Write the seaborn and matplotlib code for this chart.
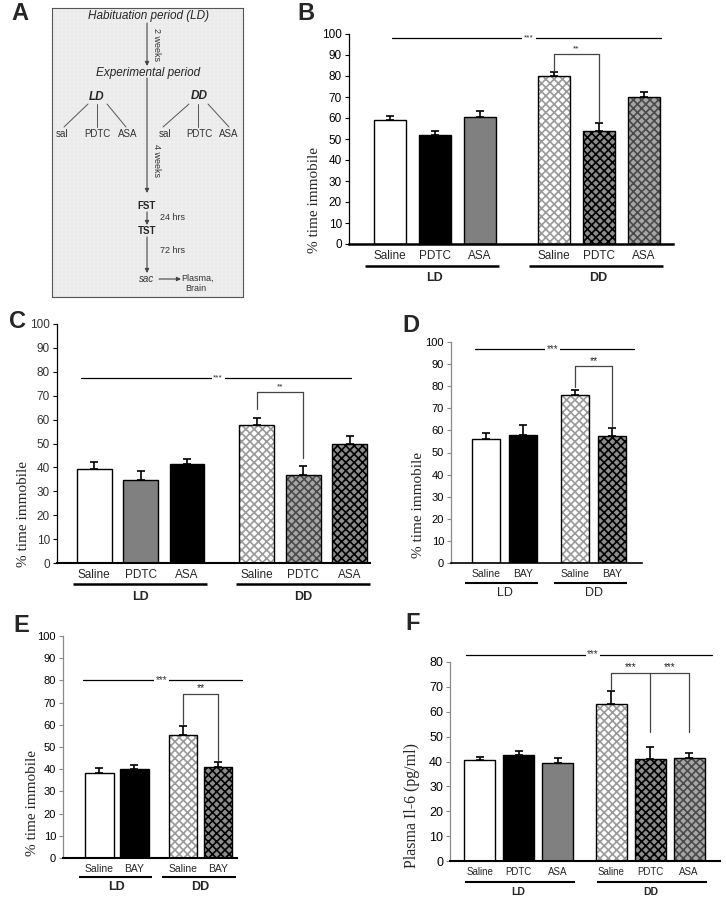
import numpy as np
import pandas as pd
import matplotlib
matplotlib.use("Agg")
import matplotlib.pyplot as plt
import seaborn as sns
from matplotlib import transforms

# ---------------- data ----------------
B_treat = ["Saline", "PDTC", "ASA", "Saline", "PDTC", "ASA"]
B_group = ["LD", "LD", "LD", "DD", "DD", "DD"]
B_mean = [59.0, 52.0, 60.3, 80.0, 54.0, 70.0]
B_sem = [1.8, 1.8, 3.2, 1.8, 3.5, 2.6]

C_treat = ["Saline", "PDTC", "ASA", "Saline", "PDTC", "ASA"]
C_group = ["LD", "LD", "LD", "DD", "DD", "DD"]
C_mean = [39.5, 34.8, 41.3, 57.9, 36.7, 49.9]
C_sem = [2.7, 3.7, 2.3, 2.9, 4.0, 3.3]

D_treat = ["Saline", "BAY", "Saline", "BAY"]
D_group = ["LD", "LD", "DD", "DD"]
D_mean = [56.1, 58.0, 76.1, 57.4]
D_sem = [2.5, 4.5, 2.4, 3.8]

E_treat = ["Saline", "BAY", "Saline", "BAY"]
E_group = ["LD", "LD", "DD", "DD"]
E_mean = [38.1, 40.3, 55.6, 41.2]
E_sem = [2.4, 1.8, 3.7, 1.9]

F_treat = ["Saline", "PDTC", "ASA", "Saline", "PDTC", "ASA"]
F_group = ["LD", "LD", "LD", "DD", "DD", "DD"]
F_mean = [40.8, 42.6, 39.3, 63.0, 41.0, 41.3]
F_sem = [1.0, 1.6, 2.0, 5.3, 4.7, 2.1]

# ---------------- style ----------------
sns.set_style("ticks")
plt.rcParams["font.family"] = ["Liberation Sans", "DejaVu Sans"]
plt.rcParams["hatch.linewidth"] = 1.2

W, H = 726, 900
fig = plt.figure(figsize=(W / 100, H / 100), dpi=100)


def add_px_axes(l, t, r, b):
    return fig.add_axes([l / W, 1 - b / H, (r - l) / W, (b - t) / H])


def fig_text(x, y, s, **kw):
    fig.text(x / W, 1 - y / H, s, **kw)


WHITE = ("white", None)
BLACK = ("black", None)
GRAY = ("#808080", None)
LIGHT_H = ("white", "#9a9a9a")
DARK_H = ("#8c8c8c", "#000000")
MID_H = ("#a6a6a6", "#4a4a4a")


def layout_positions(groups, gap):
    pos, x, prev = [], 0.0, None
    for g in groups:
        if prev is not None:
            x += 1.0 if g == prev else gap
        pos.append(round(x, 3))
        prev = g
    return pos


def bar_panel(ax, treat, group, mean, sem, styles, gap, width, xlim, ylim,
              yticks, tick_fs, cat_fs, grp_fs, grp_bold, offs, ext,
              spine_col="black", bottom_lw=1.8, grp_lw=1.8, ytick_col="black"):
    pos = layout_positions(group, gap)
    df = pd.DataFrame({"pos": pos, "mean": mean, "treat": treat, "group": group})
    sns.barplot(data=df, x="pos", y="mean", native_scale=True, width=width,
                color="white", errorbar=None, ax=ax, linewidth=0, zorder=2)
    bars = sorted(ax.patches, key=lambda p: p.get_x())
    for p, (face, hcol) in zip(bars, styles):
        p.set_facecolor(face)
        if hcol is not None:
            p.set_hatch("xxxx")
            p.set_edgecolor(hcol)
        else:
            p.set_edgecolor("none")
        p.set_linewidth(0)
    sns.barplot(data=df, x="pos", y="mean", native_scale=True, width=width,
                fill=False, color="black", errorbar=None, ax=ax, linewidth=1.0,
                zorder=3)
    ax.errorbar(pos, mean, yerr=[np.zeros(len(mean)), sem], fmt="none",
                ecolor="black", elinewidth=1.2, capsize=3, capthick=1.2, zorder=4)
    ax.set_xlim(*xlim)
    ax.set_ylim(*ylim)
    ax.set_yticks(yticks)
    ax.set_yticklabels([str(v) for v in yticks], fontsize=tick_fs, color=ytick_col)
    ax.set_xticks(pos)
    ax.set_xticklabels(treat, fontsize=cat_fs)
    ax.tick_params(axis="x", length=0, pad=offs[0])
    ax.tick_params(axis="y", length=3, width=0.8, color=spine_col, pad=2)
    ax.set_xlabel("")
    sns.despine(ax=ax)
    ax.spines["left"].set_color(spine_col)
    ax.spines["left"].set_linewidth(0.9)
    ax.spines["bottom"].set_linewidth(bottom_lw)
    ax.spines["bottom"].set_color("black")
    # group lines and labels
    for g in ["LD", "DD"]:
        idx = [i for i, gg in enumerate(group) if gg == g]
        x0 = pos[idx[0]] + ext[0]
        x1 = pos[idx[-1]] + ext[1]
        tr_line = ax.get_xaxis_transform() + transforms.ScaledTranslation(
            0, -offs[1] / 100, fig.dpi_scale_trans)
        ax.plot([x0, x1], [0, 0], color="black", lw=grp_lw, transform=tr_line,
                clip_on=False, solid_capstyle="butt")
        tr_txt = ax.get_xaxis_transform() + transforms.ScaledTranslation(
            0, -offs[2] / 100, fig.dpi_scale_trans)
        ax.text((pos[idx[0]] + pos[idx[-1]]) / 2, 0, g, transform=tr_txt,
                ha="center", va="center", fontsize=grp_fs,
                fontweight="bold" if grp_bold else "normal")
    return pos


def overall_sig(ax, x0, x1, y, tx, fs, col="black", lw=0.9):
    ax.plot([x0, x1], [y, y], color=col, lw=lw, clip_on=False, zorder=5)
    ax.text(tx, y, "***", ha="center", va="center", fontsize=fs, color="#333333",
            bbox=dict(fc="white", ec="none", pad=1.2), clip_on=False, zorder=6)


def bracket(ax, xs, ends, top, label_y, labels, fs, col="#444444", lw=0.9):
    ax.plot([xs[0], xs[-1]], [top, top], color=col, lw=lw, clip_on=False, zorder=5)
    for x, e in zip(xs, ends):
        ax.plot([x, x], [top, e], color=col, lw=lw, clip_on=False, zorder=5)
    for i, lab in enumerate(labels):
        ax.text((xs[i] + xs[i + 1]) / 2, label_y, lab, ha="center", va="center",
                fontsize=fs, color="#222222", clip_on=False, zorder=6)


serif = ["Liberation Serif", "DejaVu Serif"]
pct_ticks = list(range(0, 101, 10))

# ---------------- Panel A ----------------
axA = add_px_axes(52, 8, 243, 297)
axA.set_xlim(52, 243)
axA.set_ylim(297, 8)
axA.set_facecolor("#efefef")
axA.set_xticks(np.arange(52, 243, 4), minor=True)
axA.set_yticks(np.arange(8, 297, 4), minor=True)
axA.set_xticks([])
axA.set_yticks([])
axA.grid(which="minor", color="#e4e4e4", lw=0.35)
axA.tick_params(which="both", length=0)
for s in axA.spines.values():
    s.set_color("#555555")
    s.set_linewidth(0.8)

arr = dict(arrowstyle="-|>", color="#444444", lw=0.8, mutation_scale=6,
           shrinkA=0, shrinkB=0)
axA.text(148, 16, "Habituation period (LD)", ha="center", va="center",
         fontsize=8.5, style="italic")
axA.annotate("", xy=(147, 66), xytext=(147, 23), arrowprops=arr)
axA.text(157, 45, "2 weeks", rotation=270, ha="center", va="center", fontsize=6.5,
         color="#333333")
axA.text(148, 73, "Experimental period", ha="center", va="center", fontsize=8.5,
         style="italic")
axA.text(97, 97, "LD", ha="center", va="center", fontsize=8.5, style="italic",
         fontweight="bold")
axA.text(199, 96, "DD", ha="center", va="center", fontsize=8.5, style="italic",
         fontweight="bold")
for (x0, x1) in [(88, 64), (97, 97), (107, 126), (189, 163), (198, 198), (208, 229)]:
    axA.plot([x0, x1], [104, 127], color="#555555", lw=0.7)
for x, s in [(62, "sal"), (97, "PDTC"), (128, "ASA"), (165, "sal"), (199, "PDTC"),
             (229, "ASA")]:
    axA.text(x, 134, s, ha="center", va="center", fontsize=7, color="#333333")
axA.annotate("", xy=(147, 193), xytext=(147, 78), arrowprops=arr)
axA.text(157, 160, "4 weeks", rotation=270, ha="center", va="center", fontsize=6.5,
         color="#333333")
axA.text(147, 206, "FST", ha="center", va="center", fontsize=7, fontweight="bold")
axA.text(172, 217, "24 hrs", ha="center", va="center", fontsize=6.5, color="#333333")
axA.annotate("", xy=(147, 225), xytext=(147, 212), arrowprops=arr)
axA.text(147, 231, "TST", ha="center", va="center", fontsize=7, fontweight="bold")
axA.text(172, 250, "72 hrs", ha="center", va="center", fontsize=6.5, color="#333333")
axA.annotate("", xy=(147, 273), xytext=(147, 237), arrowprops=arr)
axA.text(147, 279, "sac", ha="center", va="center", fontsize=7, style="italic",
         color="#333333")
axA.annotate("", xy=(181, 279), xytext=(159, 279), arrowprops=arr)
axA.text(197, 278, "Plasma,", ha="center", va="center", fontsize=6.5, color="#333333")
axA.text(196, 288, "Brain", ha="center", va="center", fontsize=6.5, color="#333333")

# ---------------- Panel B ----------------
axB = add_px_axes(349, 34, 673, 244)
posB = bar_panel(axB, B_treat, B_group, B_mean, B_sem,
                 [WHITE, BLACK, GRAY, LIGHT_H, DARK_H, MID_H],
                 gap=1.64, width=0.71, xlim=(-0.91, 6.29), ylim=(0, 100),
                 yticks=pct_ticks, tick_fs=8.5, cat_fs=8.5, grp_fs=9, grp_bold=True,
                 offs=(4, 22, 34), ext=(-0.56, 0.43))
axB.set_ylabel("% time immobile", family=serif, fontsize=11)
axB.yaxis.set_label_coords(-0.085, 0.21)
overall_sig(axB, posB[0] + 0.04, posB[5] + 0.38, 98, 3.09, 6)
bracket(axB, [posB[3], posB[4]], [82.5, 58.5], 90.5, 92.8, ["**"], 6)

# ---------------- Panel C ----------------
axC = add_px_axes(57, 324, 370, 563)
posC = bar_panel(axC, C_treat, C_group, C_mean, C_sem,
                 [WHITE, GRAY, BLACK, LIGHT_H, MID_H, DARK_H],
                 gap=1.5, width=0.75, xlim=(-0.80, 5.94), ylim=(0, 100),
                 yticks=pct_ticks, tick_fs=8.5, cat_fs=8.5, grp_fs=9, grp_bold=True,
                 offs=(4, 21, 34), ext=(-0.45, 0.43), bottom_lw=1.5,
                 ytick_col="#333333")
axC.set_ylabel("% time immobile", family=serif, fontsize=11)
axC.yaxis.set_label_coords(-0.085, 0.205)
overall_sig(axC, posC[0] - 0.28, posC[5] + 0.03, 77.4, 2.67, 6)
bracket(axC, [posC[3], posC[4]], [64.5, 44], 71.5, 73.5, ["**"], 6)

# ---------------- Panel D ----------------
axD = add_px_axes(451, 342, 642, 563)
posD = bar_panel(axD, D_treat, D_group, D_mean, D_sem,
                 [WHITE, BLACK, LIGHT_H, DARK_H],
                 gap=1.41, width=0.77, xlim=(-0.95, 4.22), ylim=(0, 100),
                 yticks=pct_ticks, tick_fs=8, cat_fs=7.5, grp_fs=9, grp_bold=False,
                 offs=(4, 20, 30), ext=(-0.58, 0.4), spine_col="#8a8a8a",
                 bottom_lw=1.2, grp_lw=1.5)
axD.set_ylabel("% time immobile", family=serif, fontsize=11)
axD.yaxis.set_label_coords(-0.135, 0.262)
overall_sig(axD, posD[0] - 0.30, posD[3] + 0.59, 97, 1.81, 7)
bracket(axD, [posD[2], posD[3]], [79.5, 62], 89, 91.3, ["**"], 7.5)

# ---------------- Panel E ----------------
axE = add_px_axes(63, 636, 237, 858)
posE = bar_panel(axE, E_treat, E_group, E_mean, E_sem,
                 [WHITE, BLACK, LIGHT_H, DARK_H],
                 gap=1.39, width=0.81, xlim=(-1.04, 3.93), ylim=(0, 100),
                 yticks=pct_ticks, tick_fs=8, cat_fs=7.5, grp_fs=9, grp_bold=True,
                 offs=(4, 19, 29), ext=(-0.59, 0.5), spine_col="#8a8a8a",
                 bottom_lw=1.5, grp_lw=1.5)
axE.set_ylabel("% time immobile", family=serif, fontsize=11)
axE.yaxis.set_label_coords(-0.14, 0.25)
overall_sig(axE, posE[0] - 0.47, posE[3] + 0.69, 80, 1.78, 7)
bracket(axE, [posE[2], posE[3]], [60.5, 44], 74, 76.6, ["**"], 7.5)

# ---------------- Panel F ----------------
axF = add_px_axes(450, 662, 720, 861)
posF = bar_panel(axF, F_treat, F_group, F_mean, F_sem,
                 [WHITE, BLACK, GRAY, LIGHT_H, DARK_H, MID_H],
                 gap=1.38, width=0.79, xlim=(-0.76, 6.17), ylim=(0, 80),
                 yticks=list(range(0, 81, 10)), tick_fs=9, cat_fs=7, grp_fs=7.5,
                 grp_bold=True, offs=(4, 21, 31), ext=(-0.37, 0.45),
                 spine_col="#8a8a8a", bottom_lw=1.5, grp_lw=1.5)
axF.set_ylabel("Plasma Il-6 (pg/ml)", family=serif, fontsize=11.5)
axF.yaxis.set_label_coords(-0.11, 0.28)
overall_sig(axF, posF[0] - 0.35, posF[5] + 0.58, 83, 2.91, 7)
bracket(axF, [posF[3], posF[4], posF[5]], [69, 52, 52], 75.5, 77.8,
        ["***", "***"], 7)

# ---------------- panel letters ----------------
for x, y, s in [(20, 14, "A"), (306, 13, "B"), (17, 322, "C"), (411, 326, "D"),
                (21, 625, "E"), (413, 623, "F")]:
    fig_text(x, y, s, ha="center", va="center", fontsize=17, fontweight="bold")

fig.savefig("out.png", dpi=100)
